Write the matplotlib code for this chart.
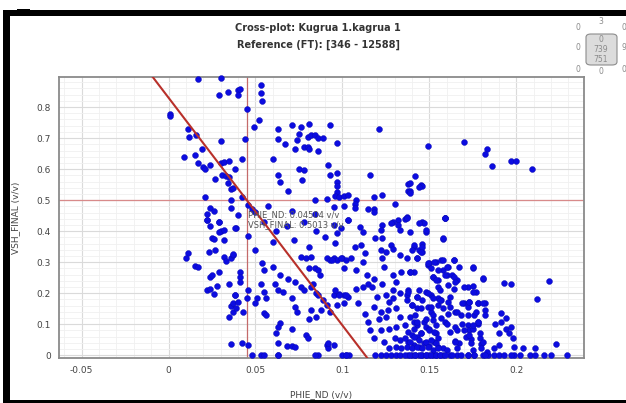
import numpy as np
import matplotlib.pyplot as plt
from matplotlib.patches import Rectangle, FancyBboxPatch

W, H = 626, 403

# crossplot data (PHIE_ND vs VSH_FINAL) in groups
phie_a = [0.017, 0.030, 0.029, 0.034, 0.001, 0.001, 0.011, 0.012, 0.016, 0.030,
          0.019, 0.009, 0.015, 0.017, 0.020, 0.021, 0.024, 0.030, 0.032, 0.035,
          0.031, 0.033, 0.035, 0.027, 0.034, 0.036, 0.037, 0.021, 0.036, 0.036,
          0.024, 0.026, 0.022, 0.022, 0.029]
vsh_a = [0.889, 0.894, 0.840, 0.848, 0.778, 0.771, 0.728, 0.703, 0.709, 0.691,
         0.665, 0.639, 0.647, 0.619, 0.606, 0.601, 0.614, 0.619, 0.623, 0.627,
         0.582, 0.577, 0.574, 0.567, 0.555, 0.536, 0.540, 0.511, 0.499, 0.474,
         0.474, 0.466, 0.454, 0.435, 0.431]

phie_b = [0.053, 0.053, 0.054, 0.040, 0.041, 0.040, 0.045, 0.052, 0.049, 0.044,
          0.042, 0.038, 0.042, 0.046, 0.048, 0.050, 0.040, 0.057, 0.071, 0.076,
          0.081, 0.063, 0.075, 0.063, 0.067, 0.074, 0.080, 0.082, 0.084, 0.086,
          0.089, 0.078, 0.080, 0.081, 0.073, 0.086, 0.093, 0.097, 0.121, 0.060,
          0.075, 0.078, 0.092, 0.097, 0.093, 0.063, 0.064, 0.077, 0.069, 0.097,
          0.097, 0.097, 0.096, 0.098, 0.101, 0.103, 0.091, 0.084, 0.108, 0.107,
          0.107, 0.116, 0.118, 0.123, 0.130, 0.138, 0.138, 0.115, 0.118, 0.118,
          0.095, 0.101, 0.071, 0.084, 0.103, 0.136, 0.132, 0.129]
vsh_b = [0.872, 0.846, 0.819, 0.854, 0.857, 0.838, 0.793, 0.757, 0.736, 0.698,
         0.633, 0.601, 0.510, 0.483, 0.472, 0.461, 0.453, 0.480, 0.743, 0.736,
         0.745, 0.730, 0.714, 0.698, 0.682, 0.695, 0.703, 0.709, 0.711, 0.701,
         0.700, 0.671, 0.670, 0.666, 0.666, 0.657, 0.743, 0.684, 0.728, 0.633,
         0.601, 0.598, 0.612, 0.588, 0.580, 0.580, 0.558, 0.564, 0.528, 0.558,
         0.547, 0.526, 0.513, 0.510, 0.513, 0.517, 0.504, 0.499, 0.501, 0.488,
         0.474, 0.580, 0.510, 0.517, 0.488, 0.553, 0.528, 0.472, 0.470, 0.461,
         0.477, 0.480, 0.464, 0.456, 0.435, 0.440, 0.435, 0.429]

phie_c = [0.149, 0.170, 0.183, 0.182, 0.186, 0.197, 0.200, 0.209, 0.142, 0.139,
          0.145, 0.146, 0.144, 0.139, 0.139, 0.137, 0.159, 0.146]
vsh_c = [0.676, 0.686, 0.666, 0.649, 0.610, 0.626, 0.626, 0.599, 0.577, 0.555,
         0.549, 0.544, 0.542, 0.531, 0.523, 0.445, 0.442, 0.429]

phie_d = [0.022, 0.024, 0.029, 0.030, 0.029, 0.032, 0.025, 0.026, 0.032, 0.039,
          0.011, 0.010, 0.023, 0.027, 0.032, 0.033, 0.036, 0.037, 0.015, 0.017,
          0.024, 0.025, 0.029, 0.035, 0.028, 0.022, 0.024, 0.026, 0.038, 0.036,
          0.037, 0.035]
vsh_d = [0.435, 0.416, 0.428, 0.400, 0.398, 0.403, 0.378, 0.374, 0.371, 0.409,
         0.328, 0.314, 0.333, 0.339, 0.317, 0.304, 0.312, 0.323, 0.288, 0.285,
         0.253, 0.260, 0.269, 0.231, 0.224, 0.210, 0.215, 0.196, 0.194, 0.158,
         0.140, 0.122]

phie_e = [0.038, 0.037, 0.041, 0.041, 0.041, 0.038, 0.037, 0.039, 0.040, 0.043,
          0.046, 0.045, 0.054, 0.055, 0.060, 0.064, 0.053, 0.055, 0.056, 0.061,
          0.063, 0.066, 0.051, 0.050, 0.055, 0.056, 0.064, 0.063, 0.062, 0.071,
          0.071, 0.073, 0.074, 0.069, 0.073, 0.076, 0.078, 0.079, 0.080, 0.063,
          0.068, 0.063, 0.076, 0.079, 0.082, 0.081, 0.084, 0.086, 0.087, 0.091,
          0.093, 0.095, 0.097, 0.100, 0.102, 0.083, 0.082, 0.085, 0.086, 0.089,
          0.091, 0.095, 0.098, 0.101, 0.103, 0.088, 0.093, 0.097, 0.082, 0.081,
          0.085, 0.091, 0.092, 0.086, 0.102]
vsh_e = [0.409, 0.325, 0.269, 0.253, 0.236, 0.194, 0.167, 0.151, 0.172, 0.140,
         0.210, 0.183, 0.296, 0.274, 0.285, 0.260, 0.231, 0.204, 0.183, 0.231,
         0.210, 0.204, 0.183, 0.167, 0.135, 0.129, 0.105, 0.091, 0.070, 0.086,
         0.183, 0.156, 0.140, 0.247, 0.236, 0.220, 0.210, 0.065, 0.056, 0.038,
         0.030, 0.000, 0.317, 0.312, 0.317, 0.282, 0.280, 0.274, 0.258, 0.314,
         0.306, 0.312, 0.306, 0.312, 0.306, 0.231, 0.220, 0.199, 0.194, 0.177,
         0.161, 0.194, 0.196, 0.194, 0.188, 0.145, 0.140, 0.161, 0.145, 0.118,
         0.124, 0.032, 0.022, 0.000, 0.000]

phie_g = [0.159, 0.147, 0.139, 0.148, 0.158, 0.141, 0.144, 0.146, 0.146, 0.143,
          0.154, 0.157, 0.164, 0.149, 0.150, 0.161, 0.158, 0.175, 0.139, 0.141,
          0.152, 0.155, 0.160, 0.163, 0.166, 0.181, 0.193, 0.197, 0.219, 0.138,
          0.137, 0.148, 0.151, 0.155, 0.156, 0.161, 0.164, 0.172, 0.175, 0.177,
          0.212, 0.143, 0.146, 0.155, 0.157, 0.155, 0.161, 0.162, 0.170, 0.173,
          0.172, 0.178, 0.182, 0.182, 0.140, 0.143, 0.149, 0.151, 0.152, 0.165,
          0.168, 0.176, 0.191, 0.194, 0.139, 0.141, 0.143, 0.157, 0.159, 0.147,
          0.148, 0.150, 0.165, 0.166, 0.172, 0.173, 0.175, 0.178, 0.178, 0.188,
          0.191, 0.194, 0.196, 0.198, 0.197, 0.190, 0.138, 0.140, 0.143, 0.145,
          0.154, 0.155, 0.165, 0.167, 0.171, 0.174, 0.179, 0.180, 0.175, 0.187,
          0.199, 0.204, 0.211, 0.223, 0.138, 0.141, 0.144, 0.147, 0.150, 0.153,
          0.155, 0.158]
vsh_g = [0.441, 0.425, 0.398, 0.398, 0.376, 0.349, 0.339, 0.333, 0.357, 0.312,
         0.301, 0.306, 0.306, 0.290, 0.296, 0.285, 0.274, 0.282, 0.269, 0.267,
         0.253, 0.242, 0.258, 0.260, 0.242, 0.247, 0.233, 0.231, 0.239, 0.210,
         0.194, 0.204, 0.194, 0.220, 0.210, 0.226, 0.215, 0.220, 0.223, 0.204,
         0.181, 0.188, 0.177, 0.183, 0.177, 0.161, 0.172, 0.156, 0.167, 0.172,
         0.156, 0.167, 0.167, 0.145, 0.161, 0.151, 0.156, 0.140, 0.129, 0.140,
         0.129, 0.131, 0.136, 0.120, 0.124, 0.107, 0.097, 0.120, 0.107, 0.107,
         0.091, 0.086, 0.091, 0.081, 0.097, 0.081, 0.086, 0.102, 0.107, 0.102,
         0.107, 0.086, 0.070, 0.054, 0.091, 0.070, 0.075, 0.065, 0.059, 0.070,
         0.070, 0.054, 0.045, 0.038, 0.059, 0.052, 0.056, 0.035, 0.016, 0.022,
         0.027, 0.024, 0.022, 0.035, 0.043, 0.032, 0.027, 0.038, 0.030, 0.043,
         0.027, 0.022]

phie_h = [0.138, 0.140, 0.142, 0.144, 0.146, 0.148, 0.150, 0.152, 0.154, 0.156,
          0.158, 0.162, 0.166, 0.172, 0.176, 0.181, 0.184, 0.187, 0.190, 0.193,
          0.199, 0.202, 0.208, 0.211, 0.216, 0.220, 0.229, 0.048, 0.053, 0.055,
          0.063, 0.084, 0.100, 0.104, 0.036, 0.042, 0.046, 0.071, 0.073, 0.092,
          0.095, 0.197, 0.190, 0.180, 0.183]
vsh_h = [0.0] * 34 + [0.035, 0.040, 0.032, 0.029, 0.025, 0.038, 0.032, 0.000,
                      0.032, 0.022, 0.011]

phie_j = [0.046, 0.055, 0.062, 0.068, 0.078, 0.085, 0.090, 0.060, 0.072, 0.050,
          0.095, 0.081]
vsh_j = [0.385, 0.430, 0.400, 0.415, 0.430, 0.400, 0.380, 0.365, 0.370, 0.340,
         0.420, 0.350]

# dense cloud, 0.09 < PHIE_ND < 0.19
phie_k = [0.103, 0.110, 0.123, 0.128, 0.132, 0.137, 0.144, 0.159, 0.099, 0.097,
          0.112, 0.122, 0.133, 0.148, 0.158,
          0.096, 0.107, 0.111, 0.119, 0.123, 0.128, 0.129, 0.141, 0.146, 0.145,
          0.140, 0.113, 0.122, 0.125, 0.133, 0.137, 0.143,
          0.094, 0.099, 0.105, 0.112, 0.123, 0.124, 0.134, 0.139, 0.149, 0.153,
          0.158, 0.164, 0.151, 0.155, 0.160, 0.167, 0.175, 0.181,
          0.101, 0.108, 0.114, 0.118, 0.129, 0.131, 0.115, 0.117, 0.123, 0.129,
          0.133, 0.138, 0.144, 0.152, 0.154, 0.159, 0.164, 0.170, 0.175, 0.165,
          0.096, 0.098, 0.102, 0.108, 0.112, 0.120, 0.125, 0.127, 0.129, 0.137,
          0.143, 0.149, 0.152, 0.156, 0.162, 0.169, 0.173, 0.178, 0.181,
          0.101, 0.109, 0.118, 0.122, 0.126, 0.131, 0.140, 0.145, 0.151, 0.158,
          0.161, 0.166, 0.172, 0.177, 0.182,
          0.113, 0.115, 0.121, 0.125, 0.133, 0.142, 0.148, 0.152, 0.154, 0.160,
          0.169, 0.175, 0.178,
          0.116, 0.122, 0.127, 0.131, 0.136, 0.141, 0.143, 0.145, 0.150, 0.153,
          0.162, 0.170, 0.173, 0.179,
          0.118, 0.124, 0.130, 0.133, 0.136, 0.139, 0.141, 0.144, 0.148, 0.151,
          0.154, 0.165, 0.174, 0.181,
          0.131, 0.134, 0.137, 0.140, 0.143, 0.146, 0.149, 0.152, 0.155, 0.160,
          0.166, 0.127,
          0.119, 0.122, 0.125, 0.128, 0.131, 0.133, 0.136, 0.139, 0.142, 0.145,
          0.148, 0.151, 0.154, 0.156, 0.159, 0.163, 0.168, 0.172, 0.176, 0.182,
          0.102]
vsh_k = [0.436, 0.414, 0.420, 0.425, 0.420, 0.441, 0.425, 0.441, 0.409, 0.393,
         0.398, 0.404, 0.404, 0.404, 0.377,
         0.361, 0.350, 0.355, 0.377, 0.377, 0.355, 0.344, 0.355, 0.350, 0.334,
         0.339, 0.328, 0.339, 0.334, 0.323, 0.312, 0.312,
         0.307, 0.312, 0.312, 0.301, 0.312, 0.285, 0.269, 0.269, 0.296, 0.301,
         0.307, 0.307, 0.280, 0.275, 0.285, 0.285, 0.285, 0.248,
         0.280, 0.275, 0.258, 0.247, 0.258, 0.237, 0.231, 0.220, 0.231, 0.210,
         0.199, 0.204, 0.210, 0.253, 0.242, 0.258, 0.253, 0.221, 0.204, 0.237,
         0.210, 0.194, 0.194, 0.215, 0.220, 0.188, 0.194, 0.172, 0.183, 0.177,
         0.188, 0.199, 0.183, 0.177, 0.188, 0.167, 0.172, 0.167, 0.167,
         0.167, 0.167, 0.156, 0.140, 0.145, 0.151, 0.161, 0.151, 0.156, 0.151,
         0.134, 0.140, 0.129, 0.140, 0.129,
         0.134, 0.108, 0.118, 0.124, 0.124, 0.129, 0.118, 0.113, 0.097, 0.102,
         0.102, 0.097, 0.108,
         0.081, 0.081, 0.086, 0.092, 0.097, 0.086, 0.108, 0.070, 0.081, 0.075,
         0.075, 0.081, 0.065, 0.070,
         0.054, 0.043, 0.054, 0.048, 0.054, 0.043, 0.059, 0.048, 0.043, 0.048,
         0.038, 0.043, 0.038, 0.043,
         0.027, 0.022, 0.027, 0.022, 0.027, 0.022, 0.027, 0.016, 0.022, 0.016,
         0.022, 0.022,
         0.0, 0.0, 0.0, 0.0, 0.0, 0.0, 0.0, 0.0, 0.0, 0.0,
         0.0, 0.0, 0.0, 0.0, 0.0, 0.0, 0.0, 0.0, 0.0, 0.0,
         0.0]

phie_nd = phie_a + phie_b + phie_c + phie_d + phie_e + phie_g + phie_h + phie_j + phie_k
vsh_final = vsh_a + vsh_b + vsh_c + vsh_d + vsh_e + vsh_g + vsh_h + vsh_j + vsh_k

# cutoffs / interpretation line
cut_phie = 0.04504
cut_vsh = 0.5013
line_phie = [-0.0095, 0.1145]
line_vsh = [0.90, -0.01]

x_ticks = [-0.05, 0, 0.05, 0.1, 0.15, 0.2]
y_ticks = [0, 0.1, 0.2, 0.3, 0.4, 0.5, 0.6, 0.7, 0.8]


def fx(px):
    return px / W


def fy(py):
    return 1 - py / H


fig = plt.figure(figsize=(W / 100, H / 100), dpi=100)
fig.patch.set_facecolor('white')

# black frame of the screenshot
fig.add_artist(Rectangle((fx(3), fy(401)), 7 / W, 386 / H, transform=fig.transFigure,
                         color='black', lw=0))
fig.add_artist(Rectangle((fx(3), fy(16)), 623 / W, 6 / H, transform=fig.transFigure,
                         color='black', lw=0))
fig.add_artist(Rectangle((fx(17), fy(12)), 13 / W, 3 / H, transform=fig.transFigure,
                         color='black', lw=0))
fig.add_artist(Rectangle((fx(3), fy(403)), 623 / W, 3 / H, transform=fig.transFigure,
                         color='black', lw=0))

ax = fig.add_axes([fx(59), fy(358), (584 - 59) / W, (358 - 77) / H])
ax.set_xlim(-0.063, 0.239)
ax.set_ylim(-0.009, 0.897)

ax.set_xticks(x_ticks)
ax.set_xticklabels(['-0.05', '0', '0.05', '0.1', '0.15', '0.2'])
ax.set_yticks(y_ticks)
ax.set_yticklabels(['0', '0.1', '0.2', '0.3', '0.4', '0.5', '0.6', '0.7', '0.8'])
ax.set_xticks(np.arange(-0.06, 0.24, 0.01), minor=True)
ax.set_yticks(np.arange(0, 0.9, 0.02), minor=True)
ax.grid(which='major', color='#dadada', lw=0.8)
ax.grid(which='minor', color='#f0f0f0', lw=0.6)
ax.set_axisbelow(True)
ax.tick_params(which='both', length=0, labelsize=6.5, colors='#444444', pad=6)
for s in ax.spines.values():
    s.set_color('#8a8a8a')
    s.set_linewidth(1.3)

ax.axhline(cut_vsh, color='#d88a8a', lw=0.9, zorder=2)
ax.axvline(cut_phie, color='#c46a6a', lw=0.9, zorder=2)

ax.scatter(phie_nd, vsh_final, s=18, color='#0c0ce0', edgecolors='#0808b0',
           linewidths=0.3, zorder=3, clip_on=False)

ax.plot(line_phie, line_vsh, color='#b8302a', lw=1.5, zorder=4)

ax.text(cut_phie + 0.0005, cut_vsh - 0.055, f'PHIE_ND: {cut_phie} v/v',
        fontsize=6, color='#555555', zorder=5)
ax.text(cut_phie + 0.0005, cut_vsh - 0.088, f'VSH_FINAL: {cut_vsh} v/v',
        fontsize=6, color='#555555', zorder=5)

ax.set_xlabel('PHIE_ND (v/v)', fontsize=6.5, color='#444444', labelpad=11)
ax.set_ylabel('VSH_FINAL (v/v)', fontsize=6.5, color='#444444', labelpad=12)

fig.text(fx(318), fy(28), 'Cross-plot: Kugrua 1.kagrua 1', ha='center', va='center',
         fontsize=7, fontweight='bold', color='#333333')
fig.text(fx(318), fy(45), 'Reference (FT): [346 - 12588]', ha='center', va='center',
         fontsize=7, fontweight='bold', color='#333333')

# counts widget, top right
fig.add_artist(FancyBboxPatch((fx(586), fy(65)), 31 / W, 31 / H,
                              boxstyle='round,pad=0,rounding_size=0.008',
                              transform=fig.transFigure, facecolor='#dcdcdc',
                              edgecolor='#8c8c8c', lw=0.8))
small = dict(ha='center', va='center', fontsize=5.5, color='#8a8a8a')
fig.text(fx(578), fy(28), '0', **small)
fig.text(fx(601), fy(22), '3', **small)
fig.text(fx(624), fy(28), '0', **small)
fig.text(fx(578), fy(48), '0', **small)
fig.text(fx(624), fy(48), '9', **small)
fig.text(fx(578), fy(69), '0', **small)
fig.text(fx(601), fy(72), '0', **small)
fig.text(fx(624), fy(69), '0', **small)
fig.text(fx(601), fy(39), '0', **small)
fig.text(fx(601), fy(49), '739', **small)
fig.text(fx(601), fy(59), '751', **small)

fig.savefig('out.png', dpi=100)
